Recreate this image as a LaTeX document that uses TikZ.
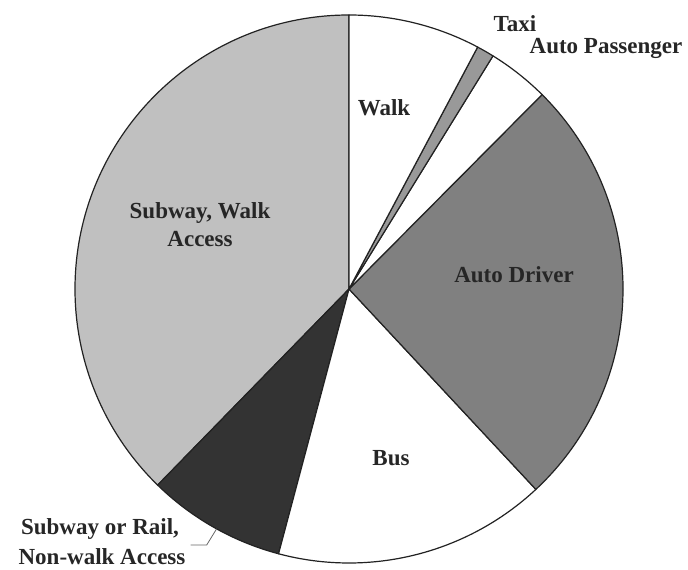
\documentclass[tikz,border=0pt]{standalone}
\usepackage{fontspec}
\setmainfont{Liberation Serif}
\usetikzlibrary{calc}
\definecolor{swalk}{HTML}{C0C0C0}
\definecolor{nwalk}{HTML}{333333}
\definecolor{adrv}{HTML}{808080}
\definecolor{taxi}{HTML}{999999}
\definecolor{edge}{HTML}{222222}
\begin{document}
\begin{tikzpicture}[x=1pt,y=1pt,
  slice/.style={draw=edge,line width=1.2pt,line join=round},
  lbl/.style={font=\fontsize{23}{27}\selectfont\bfseries,text=black!85,inner sep=0pt,anchor=base},
  leader/.style={draw=black!60,line width=0.8pt}]
\useasboundingbox (0,0) rectangle (688,570);
\coordinate (c) at (349,281);
\def\R{274}
\newcommand{\pieslice}[3]{%
  \filldraw[slice,fill=#3] (c) -- ++(#1:\R) arc[start angle=#1,end angle=#2,radius=\R] -- cycle;}
\pieslice{90}{225.7}{swalk}
\pieslice{225.7}{255.1}{nwalk}
\pieslice{255.1}{313}{white}
\pieslice{-47}{45.2}{adrv}
\pieslice{45.2}{58.3}{white}
\pieslice{58.3}{62}{taxi}
\pieslice{62}{90}{white}
% labels
\node[lbl] (walk) at (384,454) {Walk};
\node[lbl] (taxil) at (515,538) {Taxi};
\node[lbl] (autop) at (606,516) {Auto Passenger};
\node[lbl] (subw1) at (200,351) {Subway, Walk};
\node[lbl] (subw2) at (200,323) {Access};
\node[lbl] (autod) at (514,287) {Auto Driver};
\node[lbl] (bus) at (391,104) {Bus};
\node[lbl] (nw1) at (100,35) {Subway or Rail,};
\node[lbl] (nw2) at (102,5) {Non-walk Access};
\coordinate (ltip) at ($(c)+(241.1:\R)$);
\coordinate (lbend) at (206.7,25);
\coordinate (lend) at (190.7,25);
\draw[leader] (ltip) -- (lbend) -- (lend);
\end{tikzpicture}
\end{document}
